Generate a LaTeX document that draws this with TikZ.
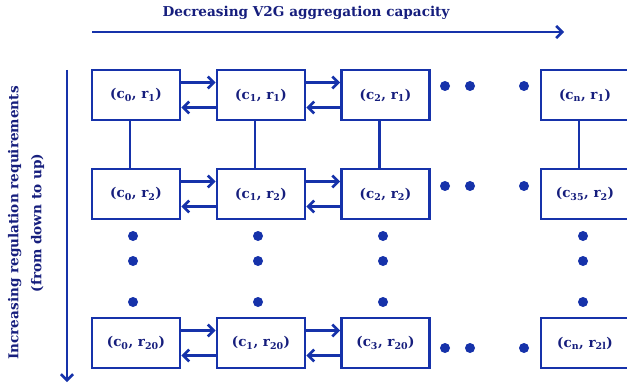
\documentclass[tikz,border=0pt]{standalone}
\usepackage{fontspec}
\setmainfont{DejaVu Serif}
\usetikzlibrary{
	arrows.meta,
	positioning
}
\definecolor{LineBlue}{RGB}{22,50,170}
\definecolor{TextBlue}{RGB}{22,30,125}

\begin{document}
\begin{tikzpicture}[x=1pt, y=-1pt,
		cell/.style={draw=LineBlue, line width=2.8pt, minimum width=88pt, minimum height=50pt, inner sep=0pt, text=TextBlue, font=\bfseries\fontsize{13.5}{16}\selectfont},
		link/.style={draw=LineBlue, line width=2.6pt, -{Straight Barb[length=6pt, width=12pt, line width=2.6pt]}},
		rung/.style={draw=LineBlue, line width=2.6pt},
		axis/.style={draw=LineBlue, line width=2.8pt, -{Straight Barb[length=6pt, width=12pt, line width=2.6pt]}},
		lbl/.style={text=TextBlue, font=\bfseries\fontsize{13.6}{23}\selectfont}]
		\useasboundingbox (0,0) rectangle (627,385);
		
		% axes
		\coordinate (H0) at (92,32);
		\coordinate (H1) at (564,32);
		\coordinate (V0) at (67,70);
		\coordinate (V1) at (67,382);
		\draw[axis] (H0) -- (H1);
		\draw[axis] (V0) -- (V1);
		\node[lbl] (capacity) at (306,12.5) {Decreasing V2G aggregation capacity};
		\node[lbl, rotate=90, align=center] (regulation) at (26,223) {Increasing regulation requirements\\(from down to up)};
		
		% states
		\node[cell] (c0r1) at (136,95) {(c\textsubscript{0}, r\textsubscript{1})};
		\node[cell] (c1r1) at (261,95) {(c\textsubscript{1}, r\textsubscript{1})};
		\node[cell] (c2r1) at (385.5,95) {(c\textsubscript{2}, r\textsubscript{1})};
		\node[cell] (cnr1) at (585,95) {(c\textsubscript{n}, r\textsubscript{1})};
		
		\node[cell] (c0r2) at (136,194) {(c\textsubscript{0}, r\textsubscript{2})};
		\node[cell] (c1r2) at (261,194) {(c\textsubscript{1}, r\textsubscript{2})};
		\node[cell] (c2r2) at (385.5,194) {(c\textsubscript{2}, r\textsubscript{2})};
		\node[cell] (c35r2) at (585,194) {(c\textsubscript{35}, r\textsubscript{2})};
		
		\node[cell] (c0r20) at (136,343) {(c\textsubscript{0}, r\textsubscript{20})};
		\node[cell] (c1r20) at (261,343) {(c\textsubscript{1}, r\textsubscript{20})};
		\node[cell] (c3r20) at (385.5,343) {(c\textsubscript{3}, r\textsubscript{20})};
		\node[cell] (cnr21) at (585,343) {(c\textsubscript{n}, r\textsubscript{2l})};
		
		% transitions
		\draw[link] ([yshift=12.5pt]c0r1.east) -- ([yshift=12.5pt]c1r1.west);
		\draw[link] ([yshift=-12.5pt]c1r1.west) -- ([yshift=-12.5pt]c0r1.east);
		\draw[link] ([yshift=12.5pt]c1r1.east) -- ([yshift=12.5pt]c2r1.west);
		\draw[link] ([yshift=-12.5pt]c2r1.west) -- ([yshift=-12.5pt]c1r1.east);
		
		\draw[link] ([yshift=12.5pt]c0r2.east) -- ([yshift=12.5pt]c1r2.west);
		\draw[link] ([yshift=-12.5pt]c1r2.west) -- ([yshift=-12.5pt]c0r2.east);
		\draw[link] ([yshift=12.5pt]c1r2.east) -- ([yshift=12.5pt]c2r2.west);
		\draw[link] ([yshift=-12.5pt]c2r2.west) -- ([yshift=-12.5pt]c1r2.east);
		
		\draw[link] ([yshift=12.5pt]c0r20.east) -- ([yshift=12.5pt]c1r20.west);
		\draw[link] ([yshift=-12.5pt]c1r20.west) -- ([yshift=-12.5pt]c0r20.east);
		\draw[link] ([yshift=12.5pt]c1r20.east) -- ([yshift=12.5pt]c3r20.west);
		\draw[link] ([yshift=-12.5pt]c3r20.west) -- ([yshift=-12.5pt]c1r20.east);
		
		\draw[rung] ([xshift=-6pt]c0r1.south) -- ([xshift=-6pt]c0r2.north);
		\draw[rung] ([xshift=-6pt]c1r1.south) -- ([xshift=-6pt]c1r2.north);
		\draw[rung] ([xshift=-6pt]c2r1.south) -- ([xshift=-6pt]c2r2.north);
		\draw[rung] ([xshift=-6pt]cnr1.south) -- ([xshift=-6pt]c35r2.north);
		
		% dots
		\fill[LineBlue] (445,86) circle (5) (470,86) circle (5) (524,86) circle (5);
		\fill[LineBlue] (445,186) circle (5) (470,186) circle (5) (524,186) circle (5);
		\fill[LineBlue] (445,348) circle (5) (470,348) circle (5) (524,348) circle (5);
		\fill[LineBlue] (133,236) circle (5) (133,261) circle (5) (133,302) circle (5);
		\fill[LineBlue] (258,236) circle (5) (258,261) circle (5) (258,302) circle (5);
		\fill[LineBlue] (383,236) circle (5) (383,261) circle (5) (383,302) circle (5);
		\fill[LineBlue] (583,236) circle (5) (583,261) circle (5) (583,302) circle (5);
	\end{tikzpicture}
\end{document}
